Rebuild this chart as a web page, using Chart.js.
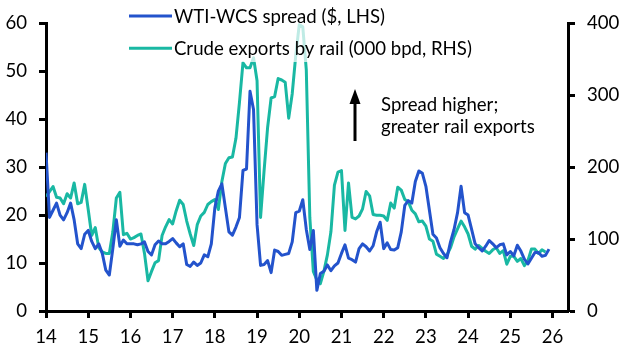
<!DOCTYPE html>
<html>
<head>
<meta charset="utf-8">
<script src="https://cdn.jsdelivr.net/npm/chart.js@4.4.1/dist/chart.umd.min.js"></script>
<style>
  html, body { margin: 0; padding: 0; background: #fff; }
  #wrap { position: relative; width: 630px; height: 358px; }
</style>
</head>
<body>
<div id="wrap"><canvas id="c" width="630" height="358"></canvas></div>
<script>
// ---- Data (monthly, Jan 2014 onwards) ----
const yearTicks = ['14','15','16','17','18','19','20','21','22','23','24','25','26'];

const spread = [
  33, 19.5, 21, 22.5, 20, 19, 20.5, 22.5, 19, 14, 13, 16,
  16.8, 14.5, 13, 14, 12, 8.5, 7.5, 13, 19, 13.5, 14.8, 14,
  14, 14, 13.8, 14, 14.4, 12.4, 11.7, 13.8, 14.6, 14, 14, 14.5,
  15.1, 14.2, 13.4, 14, 9.7, 9.3, 10.2, 9.5, 10, 11.7, 11.3, 14,
  21.5, 25, 26.5, 21.5, 16.5, 15.8, 17.5, 19.5, 29.3, 29.6, 45.8, 42,
  18, 9.5, 9.7, 10.5, 8, 12.7, 12.4, 11.6, 11.8, 12, 14.4, 20.5,
  20.8, 23.2, 17, 12.8, 16.8, 4.3, 7.8, 8.3, 9.6, 8.4, 9.4, 10,
  12, 13.8, 11, 10.7, 10.2, 13, 14, 13.4, 12.5, 13.6, 16.5, 18.5,
  13, 14.2, 12.8, 12.7, 13.2, 16.5, 22, 23, 22.5, 27, 29.2, 28.7,
  26, 21, 16, 15.2, 13.2, 12, 11.1, 14.4, 17, 20.5, 26, 20.5,
  20, 17, 14, 13.2, 12.5, 13.5, 14.7, 14, 13.2, 13.8, 14, 11.7,
  12.4, 11.5, 13.7, 12.5, 10.8, 9.8, 11, 12.2, 12.2, 11.4, 11.6, 12.9
];

const railExports = [
  159, 166, 173, 158, 157, 149, 163, 157, 178, 149, 151, 176,
  141, 105, 116, 88, 82, 80, 80, 110, 157, 165, 106, 108,
  100, 102, 105, 107, 80, 42, 55, 67, 70, 105, 117, 127,
  121, 139, 154, 148, 125, 107, 91, 120, 132, 137, 148, 152,
  155, 141, 180, 205, 213, 214, 240, 290, 345, 338, 338, 352,
  320, 130, 195, 255, 296, 298, 323, 321, 318, 268, 302, 355,
  398, 395, 335, 130, 55, 43, 38, 55, 78, 110, 175, 193,
  195, 112, 178, 130, 128, 132, 142, 166, 160, 134, 133, 133,
  132, 126, 150, 143, 172, 168, 155, 152, 140, 135, 124, 125,
  118, 100, 97, 79, 76, 73, 78, 88, 103, 114, 125, 117,
  107, 90, 86, 91, 87, 83, 80, 85, 88, 80, 84, 65,
  76, 76, 69, 73, 63, 70, 86, 86, 80, 85, 82, null
];

const seriesNames = ['WTI-WCS spread ($, LHS)', 'Crude exports by rail (000 bpd, RHS)'];
const noteLines = ['Spread higher;', 'greater rail exports'];

// ---- Styling ----
const BLUE = '#2353cc';
const TEAL = '#19b8a3';
const FONT = 'Lato, "Open Sans", "Noto Sans", sans-serif';

// fit font size to the reference legend width
const mctx = document.createElement('canvas').getContext('2d');
mctx.font = '100px ' + FONT;
const FS = Math.round(100 * 298 / mctx.measureText(seriesNames[1]).width * 10) / 10;

Chart.defaults.font.family = FONT;
Chart.defaults.font.size = FS;
Chart.defaults.color = '#000';

const toPoints = arr => arr.map((v, i) => ({ x: i, y: v }));

const overlay = {
  id: 'overlay',
  afterDatasetsDraw(chart) {
    const ctx = chart.ctx;
    ctx.save();
    // semi-transparent legend box
    ctx.fillStyle = 'rgba(255,255,255,0.72)';
    ctx.fillRect(124, 0, 356, 62);
    ctx.font = FS + 'px ' + FONT;
    ctx.textBaseline = 'alphabetic';
    ctx.textAlign = 'left';
    const rows = [
      { c: BLUE, ly: 16, by: 22.7, t: seriesNames[0] },
      { c: TEAL, ly: 48.3, by: 55, t: seriesNames[1] }
    ];
    rows.forEach(r => {
      ctx.strokeStyle = r.c;
      ctx.lineWidth = 3;
      ctx.beginPath();
      ctx.moveTo(129, r.ly);
      ctx.lineTo(172, r.ly);
      ctx.stroke();
      ctx.fillStyle = '#000';
      ctx.fillText(r.t, 174, r.by);
    });
    // arrow annotation
    ctx.strokeStyle = '#000';
    ctx.fillStyle = '#000';
    ctx.lineWidth = 3;
    ctx.beginPath();
    ctx.moveTo(355, 141);
    ctx.lineTo(355, 102);
    ctx.stroke();
    ctx.beginPath();
    ctx.moveTo(355, 89);
    ctx.lineTo(349.5, 104);
    ctx.lineTo(360.5, 104);
    ctx.closePath();
    ctx.fill();
    ctx.fillText(noteLines[0], 381, 110.5);
    ctx.fillText(noteLines[1], 381, 133);
    ctx.restore();
  }
};

new Chart(document.getElementById('c'), {
  type: 'line',
  data: {
    datasets: [
      {
        label: seriesNames[0],
        data: toPoints(spread),
        yAxisID: 'yL',
        borderColor: BLUE,
        borderWidth: 3,
        pointRadius: 0,
        tension: 0,
        borderJoinStyle: 'round',
        spanGaps: false
      },
      {
        label: seriesNames[1],
        data: toPoints(railExports),
        yAxisID: 'yR',
        borderColor: TEAL,
        borderWidth: 3,
        pointRadius: 0,
        tension: 0,
        borderJoinStyle: 'round',
        spanGaps: false
      }
    ]
  },
  options: {
    responsive: false,
    animation: false,
    events: [],
    layout: { padding: { top: 15, left: 0, right: 0, bottom: 0 } },
    plugins: { legend: { display: false }, tooltip: { enabled: false } },
    scales: {
      x: {
        type: 'linear',
        min: 0,
        max: 148.4,
        afterBuildTicks: axis => { axis.ticks = yearTicks.map((_, i) => ({ value: i * 12 })); },
        afterFit: axis => { axis.height = 47; },
        ticks: {
          autoSkip: false,
          maxRotation: 0,
          padding: 8,
          callback: v => yearTicks[Math.round(v / 12)]
        },
        grid: { drawOnChartArea: false, drawTicks: true, tickLength: 7, tickWidth: 3, tickColor: '#000' },
        border: { display: true, color: '#000', width: 3 }
      },
      yL: {
        position: 'left',
        min: 0,
        max: 60,
        afterFit: axis => { axis.width = 46; },
        ticks: { stepSize: 10, padding: 12 },
        grid: { drawOnChartArea: false, drawTicks: true, tickLength: 7, tickWidth: 3, tickColor: '#000' },
        border: { display: true, color: '#000', width: 3 }
      },
      yR: {
        position: 'right',
        min: 0,
        max: 400,
        afterFit: axis => { axis.width = 62; },
        ticks: { stepSize: 100, padding: 12 },
        grid: { drawOnChartArea: false, drawTicks: true, tickLength: 7, tickWidth: 3, tickColor: '#000' },
        border: { display: true, color: '#000', width: 3 }
      }
    }
  },
  plugins: [overlay]
});
</script>
</body>
</html>
